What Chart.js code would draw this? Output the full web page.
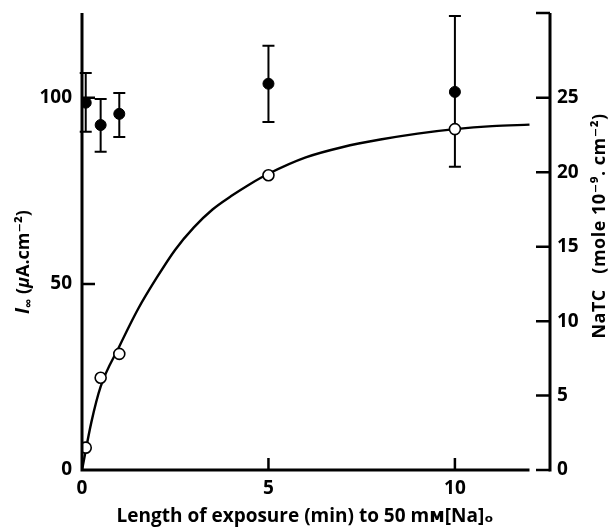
<!DOCTYPE html>
<html>
<head>
<meta charset="utf-8">
<script src="https://cdn.jsdelivr.net/npm/chart.js@4"></script>
<style>
  body { margin: 0; background: #fff; }
</style>
</head>
<body>
<canvas id="exposureChart" width="612" height="531"></canvas>
<script>
// exposure times (min) where points were measured
var exposure = [0.1, 0.5, 1, 5, 10];
// I-infinity (uA/cm2), filled circles, with error bar ends
var currentMean = [98.7, 92.7, 95.7, 103.8, 101.6];
var currentHigh = [106.7, 99.7, 101.3, 114.0, 122.0];
var currentLow = [90.9, 85.5, 89.5, 93.5, 81.5];
// NaTC (mole 10^-9 / cm2), open circles
var natcValues = [1.5, 6.2, 7.8, 19.8, 22.9];
// smooth curve drawn through the open circles
var curveX = [0, 0.25, 0.5, 1, 1.5, 2, 2.5, 3, 3.5, 4, 4.5, 5, 6, 7, 8, 9, 10, 11, 12];
var curveY = [0, 3.2, 5.6, 8.3, 10.8, 12.9, 14.8, 16.3, 17.5, 18.4, 19.2, 19.9, 21.0, 21.7, 22.2, 22.6, 22.9, 23.1, 23.2];
// tick labels
var xTicks = [0, 5, 10];
var leftTicks = [0, 50, 100];
var rightTicks = [0, 5, 10, 15, 20, 25];

var FONT = '"Open Sans", "DejaVu Sans", sans-serif';

function pts(xs, ys) {
    return xs.map(function (x, i) { return { x: x, y: ys[i] }; });
}

function noPad(s) {
    s.paddingTop = 0; s.paddingBottom = 0;
    s.paddingLeft = 0; s.paddingRight = 0;
}

var errorBars = {
    id: 'errorBars',
    beforeDatasetsDraw: function (chart) {
        var ctx = chart.ctx, xs = chart.scales.x, ys = chart.scales.y;
        ctx.save();
        ctx.strokeStyle = '#000';
        ctx.lineWidth = 2;
        exposure.forEach(function (t, i) {
            var px = xs.getPixelForValue(t);
            var top = ys.getPixelForValue(currentHigh[i]);
            var bot = ys.getPixelForValue(currentLow[i]);
            ctx.beginPath();
            ctx.moveTo(px, top); ctx.lineTo(px, bot);
            ctx.moveTo(px - 6, top); ctx.lineTo(px + 6, top);
            ctx.moveTo(px - 6, bot); ctx.lineTo(px + 6, bot);
            ctx.stroke();
        });
        ctx.restore();
    }
};

var frame = {
    id: 'frame',
    afterDraw: function (chart) {
        var ctx = chart.ctx, a = chart.chartArea;
        var xs = chart.scales.x, ys = chart.scales.y, y2 = chart.scales.y2;
        ctx.save();
        ctx.strokeStyle = '#000';
        ctx.lineWidth = 3;
        ctx.lineCap = 'butt';
        ctx.beginPath();
        // left axis
        ctx.moveTo(a.left, a.top); ctx.lineTo(a.left, a.bottom + 1.5);
        // bottom axis up to 12 min
        ctx.moveTo(a.left, a.bottom); ctx.lineTo(xs.getPixelForValue(12), a.bottom);
        // right axis
        ctx.moveTo(a.right, a.top); ctx.lineTo(a.right, a.bottom + 1.5);
        ctx.stroke();

        ctx.lineWidth = 2.5;
        ctx.beginPath();
        xTicks.forEach(function (v) {
            if (v === 0) return;
            var px = xs.getPixelForValue(v);
            ctx.moveTo(px, a.bottom); ctx.lineTo(px, a.bottom - 12);
        });
        leftTicks.forEach(function (v) {
            if (v === 0) return;
            var py = ys.getPixelForValue(v);
            ctx.moveTo(a.left, py); ctx.lineTo(a.left + 13, py);
        });
        rightTicks.concat([y2.max]).forEach(function (v) {
            var py = y2.getPixelForValue(v);
            ctx.moveTo(a.right, py); ctx.lineTo(a.right - 14, py);
        });
        ctx.stroke();

        // axis titles
        ctx.fillStyle = '#000';
        ctx.textBaseline = 'middle';

        // left title, rotated, with italic I and subscript infinity
        ctx.save();
        ctx.translate(24, 262);
        ctx.rotate(-Math.PI / 2);
        var parts = [
            { t: 'I', f: 'italic bold 19px ' + FONT, dy: 0 },
            { t: '\u221E', f: 'bold 13px ' + FONT, dy: 5 },
            { t: ' (', f: 'bold 18px ' + FONT, dy: 0 },
            { t: '\u03BC', f: 'italic bold 18px ' + FONT, dy: 0 },
            { t: 'A.cm\u207B\u00B2)', f: 'bold 18px ' + FONT, dy: 0 }
        ];
        var total = 0;
        parts.forEach(function (p) { ctx.font = p.f; p.w = ctx.measureText(p.t).width; total += p.w; });
        var cx = -total / 2;
        ctx.textAlign = 'left';
        parts.forEach(function (p) {
            ctx.font = p.f;
            ctx.fillText(p.t, cx, p.dy);
            cx += p.w;
        });
        ctx.restore();

        // right title, rotated reading upward
        ctx.save();
        ctx.translate(600, 226);
        ctx.rotate(-Math.PI / 2);
        ctx.textAlign = 'center';
        ctx.font = 'bold 18px ' + FONT;
        ctx.letterSpacing = '0.5px';
        ctx.fillText('NaTC   (mole 10\u207B\u2079. cm\u207B\u00B2)', 0, 0);
        ctx.restore();

        // bottom title
        ctx.textAlign = 'center';
        ctx.font = 'bold 19px ' + FONT;
        ctx.fillText('Length of exposure (min) to 50 m\u1D0D[Na]\u2092', 305, 517);
        ctx.restore();
    }
};

var tickFont = { family: FONT, size: 19, weight: 'bold' };

var ctxExp = document.getElementById('exposureChart').getContext('2d');
var exposureChart = new Chart(ctxExp, {
    data: {
        datasets: [{
            type: 'scatter',
            label: 'I',
            data: pts(exposure, currentMean),
            yAxisID: 'y',
            pointRadius: 5.5,
            backgroundColor: '#000',
            borderColor: '#000',
            borderWidth: 1,
            order: 0
        }, {
            type: 'scatter',
            label: 'NaTC',
            data: pts(exposure, natcValues),
            yAxisID: 'y2',
            pointRadius: 5.5,
            backgroundColor: '#fff',
            borderColor: '#000',
            borderWidth: 1.6,
            order: 1
        }, {
            type: 'line',
            label: 'fit',
            data: pts(curveX, curveY),
            yAxisID: 'y2',
            pointRadius: 0,
            borderColor: '#000',
            borderWidth: 2.4,
            fill: false,
            cubicInterpolationMode: 'monotone',
            order: 2
        }]
    },
    options: {
        responsive: false,
        animation: false,
        layout: { padding: { top: 13, left: 0, right: 0, bottom: 0 } },
        plugins: {
            legend: { display: false },
            tooltip: { enabled: false }
        },
        scales: {
            x: {
                type: 'linear',
                min: 0,
                max: 12.55,
                afterBuildTicks: function (s) { s.ticks = xTicks.map(function (v) { return { value: v }; }); },
                afterFit: function (s) { s.height = 61; noPad(s); },
                grid: { display: false, drawTicks: false },
                border: { display: false },
                ticks: { color: '#000', font: tickFont, padding: 7, maxRotation: 0 }
            },
            y: {
                position: 'left',
                min: 0,
                max: 122.8,
                afterBuildTicks: function (s) { s.ticks = leftTicks.map(function (v) { return { value: v }; }); },
                afterFit: function (s) { s.width = 82; noPad(s); },
                grid: { display: false, drawTicks: false },
                border: { display: false },
                ticks: { color: '#000', font: tickFont, padding: 10 }
            },
            y2: {
                position: 'right',
                min: 0,
                max: 30.7,
                afterBuildTicks: function (s) { s.ticks = rightTicks.map(function (v) { return { value: v }; }); },
                afterFit: function (s) { s.width = 62; noPad(s); },
                grid: { display: false, drawTicks: false },
                border: { display: false },
                ticks: { color: '#000', font: tickFont, padding: 7 }
            }
        }
    },
    plugins: [errorBars, frame]
});
</script>
</body>
</html>
